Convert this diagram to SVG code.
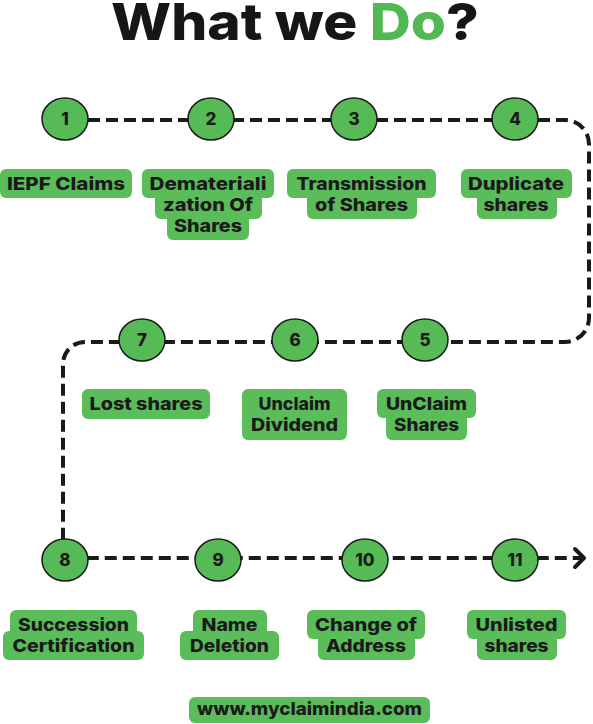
<svg xmlns="http://www.w3.org/2000/svg" width="593" height="724" viewBox="0 0 593 724">
<style>
.title{font-family:Inter,"Open Sans","Liberation Sans",sans-serif;font-weight:800;font-size:51px;fill:#161616}
.num{font-family:Inter,"Open Sans","Liberation Sans",sans-serif;font-weight:800;font-size:17px;fill:#1a1a1a;text-anchor:middle}
.lbl{font-family:Inter,"Open Sans","Liberation Sans",sans-serif;font-weight:800;font-size:17.5px;fill:#1a1a1a;text-anchor:middle}
.node ellipse{fill:#56bb56;stroke:#1a1a1a;stroke-width:1.5}
.box{fill:#5abd5a}
.conn{fill:none;stroke:#1a1a1a;stroke-width:4;stroke-dasharray:12 6}
</style>
<defs>
<marker id="arrow" markerUnits="userSpaceOnUse" markerWidth="20" markerHeight="24" refX="12" refY="12" orient="auto" viewBox="0 0 20 24">
<path d="M3 3 L12 12 L3 21" fill="none" stroke="#1a1a1a" stroke-width="4" stroke-linecap="round" stroke-linejoin="round"/>
</marker>
</defs>
<rect width="593" height="724" fill="#ffffff"/>
<text class="title" x="111" y="40" textLength="368" lengthAdjust="spacingAndGlyphs">What we <tspan fill="#52b852">Do</tspan>?</text>
<g id="connectors">
<path class="conn" d="M88 120 H565 A24 24 0 0 1 589 144 V318 A24 24 0 0 1 565 342 H85 A22 22 0 0 0 63 364 V558 H584" marker-end="url(#arrow)"/>
</g>
<g id="node1" class="node"><ellipse cx="65" cy="119" rx="23" ry="21"/><text class="num" x="65" y="125">1</text></g>
<g id="node2" class="node"><ellipse cx="211" cy="119" rx="23" ry="21"/><text class="num" x="211" y="125">2</text></g>
<g id="node3" class="node"><ellipse cx="354" cy="119" rx="23" ry="21"/><text class="num" x="354" y="125">3</text></g>
<g id="node4" class="node"><ellipse cx="515" cy="119" rx="23" ry="21"/><text class="num" x="515" y="125">4</text></g>
<g id="node5" class="node"><ellipse cx="425" cy="340" rx="23" ry="21"/><text class="num" x="425" y="346">5</text></g>
<g id="node6" class="node"><ellipse cx="295" cy="340" rx="23" ry="21"/><text class="num" x="295" y="346">6</text></g>
<g id="node7" class="node"><ellipse cx="142" cy="340" rx="23" ry="21"/><text class="num" x="142" y="346">7</text></g>
<g id="node8" class="node"><ellipse cx="65" cy="560" rx="23" ry="21"/><text class="num" x="65" y="566">8</text></g>
<g id="node9" class="node"><ellipse cx="218" cy="560" rx="23" ry="21"/><text class="num" x="218" y="566">9</text></g>
<g id="node10" class="node"><ellipse cx="365" cy="560" rx="23" ry="21"/><text class="num" x="365" y="566">10</text></g>
<g id="node11" class="node"><ellipse cx="515" cy="560" rx="23" ry="21"/><text class="num" x="515" y="566">11</text></g>

<g id="label1"><rect class="box" x="0" y="169" width="132" height="29" rx="6"/><text class="lbl" x="66" y="190" textLength="118" lengthAdjust="spacingAndGlyphs">IEPF Claims</text></g>
<g id="label2"><rect class="box" x="142" y="169" width="132" height="29" rx="6"/><rect class="box" x="155" y="190" width="107" height="29" rx="6"/><rect class="box" x="167" y="211" width="82" height="29" rx="6"/>
<text class="lbl" x="208" y="190" textLength="117" lengthAdjust="spacingAndGlyphs">Demateriali</text><text class="lbl" x="208" y="211" textLength="90" lengthAdjust="spacingAndGlyphs">zation Of</text><text class="lbl" x="208" y="232" textLength="68" lengthAdjust="spacingAndGlyphs">Shares</text></g>
<g id="label3"><rect class="box" x="287" y="169" width="149" height="29" rx="6"/><rect class="box" x="307" y="190" width="110" height="29" rx="6"/>
<text class="lbl" x="361.5" y="190" textLength="130" lengthAdjust="spacingAndGlyphs">Transmission</text><text class="lbl" x="361.5" y="211" textLength="93" lengthAdjust="spacingAndGlyphs">of Shares</text></g>
<g id="label4"><rect class="box" x="461" y="169" width="111" height="29" rx="6"/><rect class="box" x="477" y="190" width="80" height="29" rx="6"/>
<text class="lbl" x="516" y="190" textLength="96" lengthAdjust="spacingAndGlyphs">Duplicate</text><text class="lbl" x="516" y="211" textLength="65" lengthAdjust="spacingAndGlyphs">shares</text></g>
<g id="label5"><rect class="box" x="377" y="389" width="99" height="29" rx="6"/><rect class="box" x="386" y="410" width="81" height="30" rx="6"/>
<text class="lbl" x="426.5" y="410" textLength="81" lengthAdjust="spacingAndGlyphs">UnClaim</text><text class="lbl" x="426.5" y="431" textLength="65" lengthAdjust="spacingAndGlyphs">Shares</text></g>
<g id="label6"><rect class="box" x="242" y="389" width="105" height="51" rx="6"/>
<text class="lbl" x="294.5" y="410" textLength="72" lengthAdjust="spacingAndGlyphs">Unclaim</text><text class="lbl" x="294.5" y="431" textLength="87" lengthAdjust="spacingAndGlyphs">Dividend</text></g>
<g id="label7"><rect class="box" x="82" y="389" width="128" height="30" rx="6"/><text class="lbl" x="146" y="410" textLength="113" lengthAdjust="spacingAndGlyphs">Lost shares</text></g>
<g id="label8"><rect class="box" x="10" y="610" width="127" height="29" rx="6"/><rect class="box" x="3" y="631" width="141" height="29" rx="6"/>
<text class="lbl" x="73.5" y="631" textLength="111" lengthAdjust="spacingAndGlyphs">Succession</text><text class="lbl" x="73.5" y="652" textLength="122" lengthAdjust="spacingAndGlyphs">Certification</text></g>
<g id="label9"><rect class="box" x="193" y="610" width="74" height="29" rx="6"/><rect class="box" x="180" y="631" width="99" height="29" rx="6"/>
<text class="lbl" x="229.5" y="631" textLength="56" lengthAdjust="spacingAndGlyphs">Name</text><text class="lbl" x="229.5" y="652" textLength="79" lengthAdjust="spacingAndGlyphs">Deletion</text></g>
<g id="label10"><rect class="box" x="307" y="610" width="118" height="29" rx="6"/><rect class="box" x="318" y="631" width="97" height="29" rx="6"/>
<text class="lbl" x="366" y="631" textLength="102" lengthAdjust="spacingAndGlyphs">Change of</text><text class="lbl" x="366" y="652" textLength="80" lengthAdjust="spacingAndGlyphs">Address</text></g>
<g id="label11"><rect class="box" x="467" y="610" width="99" height="29" rx="6"/><rect class="box" x="477" y="631" width="80" height="29" rx="6"/>
<text class="lbl" x="516.5" y="631" textLength="82" lengthAdjust="spacingAndGlyphs">Unlisted</text><text class="lbl" x="516.5" y="652" textLength="64" lengthAdjust="spacingAndGlyphs">shares</text></g>
<g id="footer"><rect class="box" x="189" y="697" width="241" height="26" rx="6"/><text class="lbl" x="309.5" y="715" textLength="225" lengthAdjust="spacingAndGlyphs">www.myclaimindia.com</text></g>
</svg>
